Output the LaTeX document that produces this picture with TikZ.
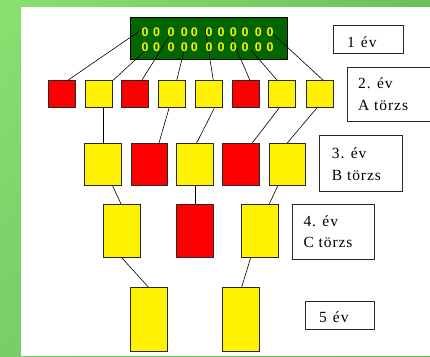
\documentclass[tikz,border=0pt]{standalone}
\usepackage{fontspec}
\setmainfont{Liberation Serif}[LetterSpace=6]
\newfontfamily\zerofont{Liberation Sans}
\usetikzlibrary{calc,shadings}
\definecolor{gUL}{RGB}{138,224,112}
\definecolor{gUR}{RGB}{108,192,90}
\definecolor{gLL}{RGB}{120,206,104}
\definecolor{gLR}{RGB}{100,180,84}
\definecolor{darkgreen}{RGB}{0,102,0}
\definecolor{boxline}{RGB}{40,40,40}
\tikzset{
  cell/.style={draw=boxline, line width=0.8pt, inner sep=0pt, anchor=center},
  ycell/.style={cell, fill=yellow},
  rcell/.style={cell, fill=red},
  link/.style={draw=black, line width=0.6pt},
  label box/.style={draw=boxline, line width=1pt, fill=white},
  lbl/.style={anchor=west, align=left, inner sep=0pt, font=\fontsize{15.5}{21.5}\selectfont},
  zero/.style={text=yellow, inner sep=0pt, font=\zerofont\bfseries\fontsize{12.5}{12.5}\selectfont}
}
\begin{document}
\begin{tikzpicture}[x=1pt,y=-1pt]
\useasboundingbox (0,0) rectangle (430,356);
% background
\shade[upper left=gUL, upper right=gUR, lower left=gLL, lower right=gLR] (0,0) rectangle (430,356);
\fill[white] (21,7) rectangle (430,356);

% top green box
\node[draw=black, line width=0.8pt, fill=darkgreen, minimum width=156.6pt, minimum height=42pt, inner sep=0pt] (top) at (209,38.3) {};

% connector end points inside the top box
\coordinate (p1) at (141,30);
\coordinate (p2) at (146,50);
\coordinate (p3) at (169,37);
\coordinate (p4) at (184.5,49);
\coordinate (p5) at (205,28);
\coordinate (p6) at (231.7,38);
\coordinate (p7) at (251,50);
\coordinate (p8) at (270.5,31.7);

% row 2
\foreach \n/\x/\s in {g1/62/rcell, g2/99/ycell, g3/135/rcell, g4/172/ycell, g5/209/ycell, g6/245.7/rcell, g7/282.3/ycell, g8/319.7/ycell}
  \node[\s, minimum width=27pt, minimum height=27pt] (\n) at (\x,94.3) {};
% row 3
\foreach \n/\x/\s in {h1/103/ycell, h2/149.2/rcell, h3/195/ycell, h4/241/rcell, h5/287.3/ycell}
  \node[\s, minimum width=36.5pt, minimum height=42.4pt] (\n) at (\x,164.5) {};
% row 4
\foreach \n/\x/\s in {k1/121.7/ycell, k2/195/rcell, k3/260/ycell}
  \node[\s, minimum width=36.7pt, minimum height=53pt] (\n) at (\x,230.8) {};
% row 5
\foreach \n/\x/\s in {m1/149.2/ycell, m2/241.3/ycell}
  \node[\s, minimum width=37pt, minimum height=63.7pt] (\n) at (\x,319.2) {};

% connectors top box -> row 2
\draw[link] ([xshift=5.7pt]g1.north) -- (p1);
\draw[link] (g2.north east) -- (p2);
\draw[link] ([xshift=6.7pt]g3.north) -- (p3);
\draw[link] ([xshift=4.7pt]g4.north) -- (p4);
\draw[link] ([xshift=4.3pt]g5.north) -- (p5);
\draw[link] ([xshift=4.3pt]g6.north) -- (p6);
\draw[link] ([xshift=-5pt]g7.north) -- (p7);
\draw[link] ([xshift=3.6pt]g8.north) -- (p8);

% zeros
\foreach \x [count=\i] in {145,156.7,171,184.3,194.3,209,221,233.3,245,258.3,270} {
  \node[zero] (za\i) at (\x,31.7) {0};
  \node[zero] (zb\i) at (\x,46.7) {0};
}

% row 2 -> row 3
\draw[link] ([xshift=4pt]g2.south) -- (h1.north);
\draw[link] ([xshift=-3pt]g4.south) -- ([xshift=9.8pt]h2.north);
\draw[link] ([xshift=5.3pt]g5.south) -- ([xshift=1.7pt]h3.north);
\draw[link] ([xshift=-3.3pt]g7.south) -- ([xshift=11.3pt]h4.north);
\draw[link] ([xshift=-3pt]g8.south) -- (h5.north);
% row 3 -> row 4
\draw[link] ([xshift=9.7pt]h1.south) -- ([xshift=-0.7pt]k1.north);
\draw[link] ([xshift=0.7pt]h3.south) -- ([xshift=0.7pt]k2.north);
\draw[link] ([xshift=-9.6pt]h5.south) -- ([xshift=9.3pt]k3.north);
% row 4 -> row 5
\draw[link] (k1.south) -- ([xshift=-0.9pt]m1.north);
\draw[link] ([xshift=-9.3pt]k3.south) -- ([xshift=0.4pt]m2.north);

% label boxes
\node[label box, minimum width=70pt, minimum height=28.3pt, inner sep=0pt] (L1) at (368.3,39.2) {};
\node[lbl] (t1) at (347,42.5) {1\hspace{6pt}év};
\node[label box, minimum width=85pt, minimum height=54.5pt, inner sep=0pt] (L2) at (389.5,94.3) {};
\node[lbl] (t2) at (358,94) {2. év\\A törzs};
\node[label box, minimum width=83pt, minimum height=56pt, inner sep=0pt] (L3) at (360.8,163.7) {};
\node[lbl] (t3) at (331.7,164) {3. év\\B törzs};
\node[label box, minimum width=82.5pt, minimum height=54.5pt, inner sep=0pt] (L4) at (333.7,232.2) {};
\node[lbl] (t4) at (303.3,231.5) {4. év\\C törzs};
\node[label box, minimum width=68.7pt, minimum height=28.3pt, inner sep=0pt] (L5) at (340.3,315.8) {};
\node[lbl] (t5) at (319,317.5) {5\hspace{6pt}év};
\end{tikzpicture}
\end{document}
